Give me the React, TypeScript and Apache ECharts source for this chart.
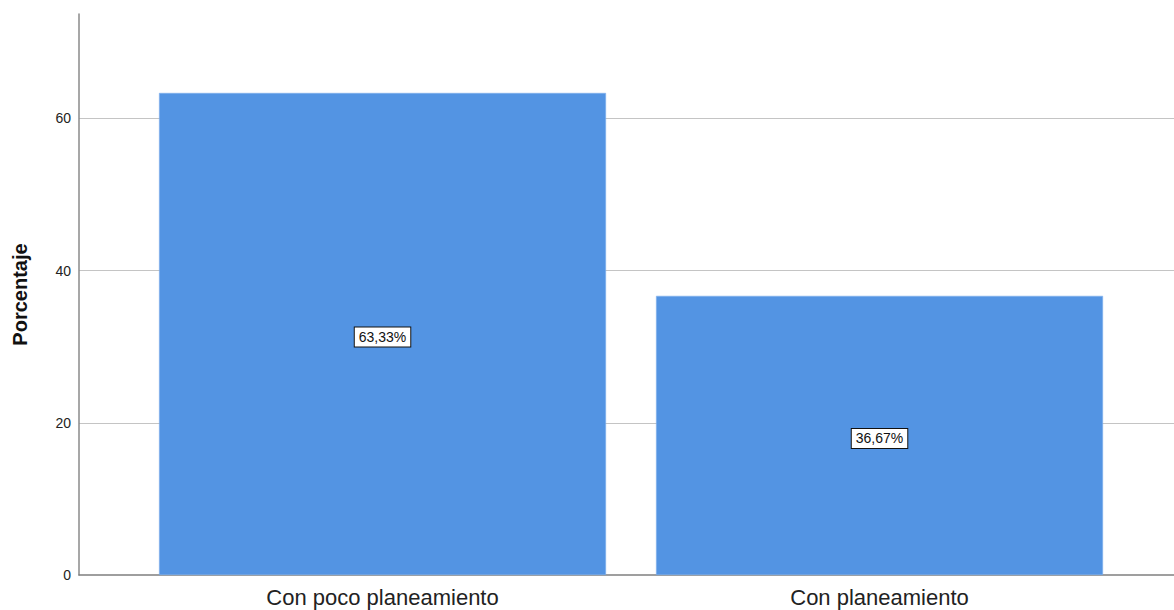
import React, { useEffect, useRef } from "react";
import * as echarts from "echarts";

// Categories and their percentages
const categories: string[] = ["Con poco planeamiento", "Con planeamiento"];
const percentages: number[] = [63.33, 36.67];
const yTicks: number[] = [0, 20, 40, 60];

const FONT = "'Liberation Sans', Arial, sans-serif";

export default function App() {
  const ref = useRef<HTMLDivElement>(null);

  useEffect(() => {
    if (!ref.current) return;
    const chart = echarts.init(ref.current, undefined, { renderer: "svg" });

    const positions = categories.map((_, i) => i);

    chart.setOption({
      animation: false,
      backgroundColor: "#ffffff",
      textStyle: { fontFamily: FONT },
      grid: { left: 79, right: 0, top: 14, bottom: 35, containLabel: false },
      xAxis: {
        type: "value",
        min: -0.6107,
        max: 1.5925,
        axisLine: { show: true, onZero: false, lineStyle: { color: "#7f7f7f", width: 1.5 } },
        axisTick: { show: false },
        splitLine: { show: false },
        axisLabel: {
          customValues: positions,
          formatter: (v: number) => categories[Math.round(v)] ?? "",
          color: "#222222",
          fontSize: 22,
          fontFamily: FONT,
          margin: 11,
        },
      },
      yAxis: {
        type: "value",
        min: 0,
        max: 73.7,
        interval: 20,
        name: "Porcentaje",
        nameLocation: "middle",
        nameGap: 49,
        nameTextStyle: { fontSize: 20, fontWeight: "bold", color: "#111111", fontFamily: FONT },
        axisLine: { show: true, onZero: false, lineStyle: { color: "#8a8a8a", width: 1.5 } },
        axisTick: { show: false },
        axisLabel: {
          customValues: yTicks,
          color: "#222222",
          fontSize: 14,
          fontFamily: FONT,
          margin: 8,
        },
        splitLine: {
          show: true,
          showMinLine: false,
          showMaxLine: false,
          lineStyle: { color: "#c4c4c4", width: 1.2 },
        },
      },
      series: [
        {
          type: "bar",
          barWidth: 447,
          data: percentages.map((v, i) => [positions[i], v]),
          itemStyle: { color: "#5394e3", borderColor: "#7fb0ee", borderWidth: 0.6 },
          label: {
            show: true,
            position: "inside",
            formatter: (p: any) => p.value[1].toFixed(2).replace(".", ",") + "%",
            color: "#111111",
            fontSize: 14,
            fontFamily: FONT,
            backgroundColor: "#ffffff",
            borderColor: "#111111",
            borderWidth: 1,
            padding: [3, 4, 2, 4],
            offset: [0, 3],
          },
        },
      ],
    });

    return () => chart.dispose();
  }, []);

  return (
    <div
      ref={ref}
      style={{ position: "fixed", left: 0, top: 0, width: 1174, height: 610 }}
    />
  );
}
